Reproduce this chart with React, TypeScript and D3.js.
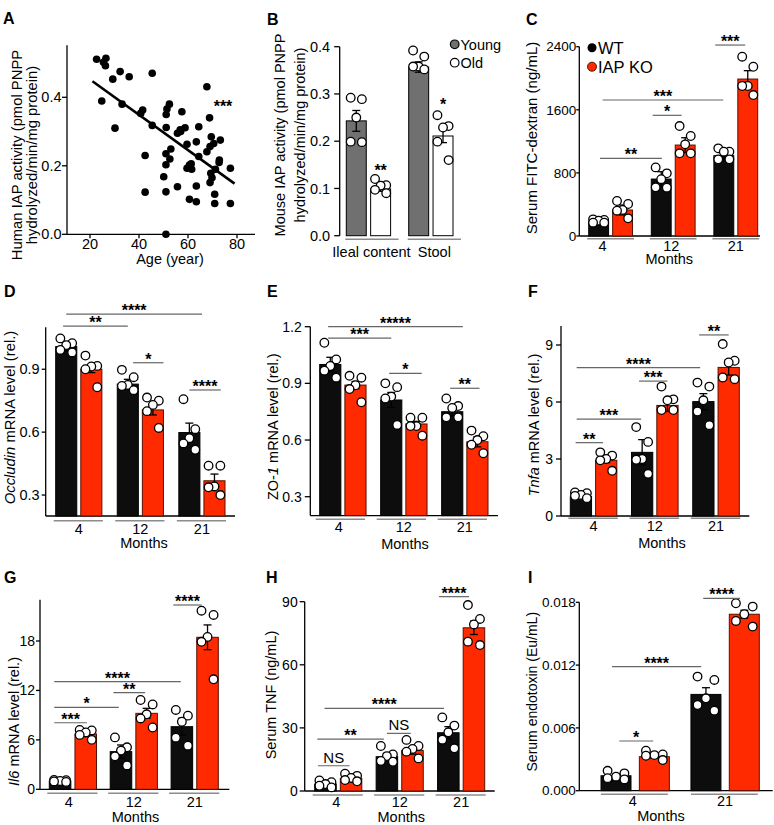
import React from "react";
import * as d3 from "d3";

const FONT = "'Liberation Sans', Arial, Helvetica, sans-serif";
const RED = "#ff2a00";
const RED_EDGE = "#5a1000";
const BLACK_BAR = "#0d0d0d";
const YOUNG_GREY = "#707070";
const RULE_GREY = "#8c8c8c";
const SIG_GREY = "#666666";

// ---------- A: human IAP activity vs age
const humanAge = [22.7, 26.5, 25.5, 26.3, 32.3, 29.3, 36, 45.4, 24.8, 33.1, 30.2, 41.5, 40.7, 45.4, 42.5, 42.5, 51.4, 52.4, 51.1, 51.1, 51, 53, 52.6, 51, 50.1, 51, 51, 55.7, 55.7, 56.8, 58.8, 57.5, 59.6, 59.6, 60.6, 61.3, 60.6, 63.4, 63.4, 63.4, 64.4, 64.4, 67.7, 68.8, 67.7, 69, 69.5, 69.3, 69, 69.8, 70.9, 70.9, 73.2, 72.8, 72.7, 70.5, 77.3, 77.3, 71.2, 57, 61.5];
const humanIap = [0.511, 0.514, 0.502, 0.492, 0.475, 0.453, 0.46, 0.47, 0.389, 0.38, 0.31, 0.363, 0.353, 0.318, 0.23, 0.123, 0.366, 0.38, 0.35, 0.312, 0.235, 0.249, 0.22, 0.203, 0.168, 0.124, 0.0, 0.139, 0.295, 0.305, 0.311, 0.358, 0.263, 0.193, 0.202, 0.206, 0.102, 0.095, 0.141, 0.27, 0.314, 0.227, 0.431, 0.34, 0.241, 0.256, 0.285, 0.178, 0.151, 0.165, 0.117, 0.09, 0.275, 0.217, 0.21, 0.265, 0.193, 0.09, 0.19, 0.3, 0.19];
const fitAge = [21, 79];
const fitIap = [0.447, 0.148];
const ageTicks = [20, 40, 60, 80];
const humanTicks = [0, 0.2, 0.4];

// ---------- B: mouse IAP activity
const bGroups = ["Ileal content", "Stool"];
const bYoungMean = [0.243, 0.357];
const bYoungSem = [0.022, 0.011];
const bYoungDots = [[0.292, 0.289, 0.25, 0.199, 0.198], [0.392, 0.379, 0.358, 0.358, 0.352]];
const bOldMean = [0.099, 0.211];
const bOldSem = [0.005, 0.014];
const bOldDots = [[0.12, 0.107, 0.106, 0.097, 0.09], [0.255, 0.232, 0.229, 0.199, 0.16]];
const bTicks = [0, 0.1, 0.2, 0.3, 0.4];

// ---------- C..I: WT vs IAP KO by age in months
const months = ["4", "12", "21"];
const monthsI = ["4", "21"];

const cWtMean = [182, 722, 1018];
const cWtSem = [42, 93, 51];
const cWtDots = [[211, 203, 194, 169, 169], [870, 794, 720, 617, 613], [1111, 1069, 1069, 972, 972]];
const cKoMean = [330, 1153, 1990];
const cKoSem = [63, 93, 106];
const cKoDots = [[444, 406, 330, 321, 224], [1394, 1268, 1162, 1048, 1048], [2273, 2146, 1902, 1902, 1787]];
const cTicks = [0, 800, 1600, 2400];

const dWtMean = [1.008, 0.829, 0.598];
const dWtSem = [0.02, 0.023, 0.045];
const dWtDots = [[1.047, 1.024, 1.015, 0.992, 0.98], [0.897, 0.862, 0.825, 0.82, 0.8], [0.757, 0.614, 0.571, 0.546, 0.516]];
const dKoMean = [0.9, 0.706, 0.368];
const dKoSem = [0.016, 0.024, 0.032];
const dKoDots = [[0.965, 0.916, 0.913, 0.9, 0.814], [0.765, 0.75, 0.73, 0.7, 0.62], [0.44, 0.44, 0.341, 0.337, 0.3]];
const dTicks = [0.3, 0.6, 0.9];

const eWtMean = [1.0, 0.812, 0.75];
const eWtSem = [0.038, 0.04, 0.023];
const eWtDots = [[1.115, 1.027, 0.992, 0.967, 0.93], [0.9, 0.88, 0.83, 0.82, 0.68], [0.82, 0.78, 0.77, 0.72, 0.72]];
const eKoMean = [0.891, 0.685, 0.591];
const eKoSem = [0.019, 0.014, 0.027];
const eKoDots = [[0.94, 0.93, 0.89, 0.87, 0.8], [0.718, 0.718, 0.674, 0.674, 0.623], [0.65, 0.62, 0.6, 0.575, 0.53]];
const eTicks = [0.3, 0.6, 0.9, 1.2];

const fWtMean = [1.02, 3.35, 6.02];
const fWtSem = [0.05, 0.67, 0.42];
const fWtDots = [[1.24, 1.2, 1.11, 1.06, 0.94], [4.68, 3.9, 3.0, 2.96, 2.22], [7.02, 6.81, 6.09, 5.5, 4.78]];
const fKoMean = [2.93, 5.82, 7.82];
const fKoSem = [0.12, 0.32, 0.4];
const fKoDots = [[3.35, 3.18, 3.0, 2.93, 2.38], [6.81, 6.14, 6.09, 5.58, 5.58], [9.05, 8.17, 8.08, 7.29, 7.2]];
const fTicks = [0, 3, 6, 9];

const gWtMean = [1.01, 4.57, 7.6];
const gWtSem = [0.08, 0.81, 1.02];
const gWtDots = [[1.13, 1.1, 1.01, 0.95, 0.9], [6.3, 5.1, 4.7, 4.0, 2.9], [9.63, 8.94, 8.2, 6.27, 5.3]];
const gKoMean = [6.72, 9.22, 18.45];
const gKoSem = [0.2, 0.61, 1.5];
const gKoDots = [[7.2, 7.15, 6.9, 6.6, 6.0], [10.84, 10.3, 9.1, 8.6, 7.5], [21.68, 21.16, 18.5, 17.9, 13.35]];
const gTicks = [0, 6, 12, 18];

const hWtMean = [3.33, 16.3, 27.7];
const hWtSem = [0.6, 1.6, 2.9];
const hWtDots = [[5.0, 4.2, 3.3, 2.5, 1.7], [21.4, 17.4, 16.6, 14.3, 13.9], [35.0, 31.1, 27.9, 24.4, 20.3]];
const hKoMean = [6.0, 19.3, 77.6];
const hKoSem = [0.7, 1.8, 3.2];
const hKoDots = [[8.2, 7.2, 6.2, 5.2, 4.6], [24.3, 21.4, 20.0, 18.7, 15.5], [88.4, 81.8, 79.2, 71.0, 69.4]];
const hTicks = [0, 30, 60, 90];

const iWtMean = [0.00143, 0.0092];
const iWtSem = [0.00015, 0.00064];
const iWtDots = [[0.0019, 0.00166, 0.00134, 0.0012, 0.00108], [0.0109, 0.01058, 0.00883, 0.00819, 0.00765]];
const iKoMean = [0.00325, 0.01686];
const iKoSem = [0.00015, 0.00038];
const iKoDots = [[0.00382, 0.00347, 0.0034, 0.00334, 0.00293], [0.01791, 0.01759, 0.01686, 0.01622, 0.01568]];
const iTicks = [0, 0.006, 0.012, 0.018];

// dot spread inside a bar, by rank (highest first), in bar widths
const JITTER = [-0.28, 0.28, 0, -0.28, 0.28];

type Series = { key: string; fill: string; stroke: string; means: number[]; sems: number[]; dots: number[][] };
type Sig = { g1: string; s1: string; o1: number; g2?: string; s2?: string; o2?: number; y: number; text: string };

const wt = (means: number[], sems: number[], dots: number[][]): Series => ({ key: "WT", fill: BLACK_BAR, stroke: "#000", means, sems, dots });
const ko = (means: number[], sems: number[], dots: number[][]): Series => ({ key: "KO", fill: RED, stroke: RED_EDGE, means, sems, dots });

function BarPanel(props: any) {
  const { groups, series, sigs, L } = props;
  const y = d3.scaleLinear().domain(L.domain).range(L.yRange);
  const gx = d3.scaleBand().domain(groups).range(L.barRange).paddingInner(L.pGroup).paddingOuter(0);
  const sx = d3
    .scaleBand()
    .domain(series.map((s: Series) => s.key))
    .range([0, gx.bandwidth()])
    .paddingInner(L.pBar)
    .paddingOuter(0);
  const bw = sx.bandwidth();
  const cx = (g: string, s: string) => (gx(g) as number) + (sx(s) as number) + bw / 2;
  const fmt = L.fmt || ((v: number) => String(v));
  const yBase = y(L.domain[0]);
  const tickLen = L.tickLen ?? 5;
  const tickGap = L.tickGap ?? 7;

  return (
    <g fontFamily={FONT}>
      <text x={L.letter[0]} y={L.letter[1]} fontSize={16} fontWeight="bold">{L.letterText}</text>
      {/* y axis */}
      <line x1={L.axisX} x2={L.axisX} y1={yBase} y2={y(L.domain[1])} stroke="#000" strokeWidth={1.3} />
      {L.ticks.map((t: number) => (
        <g key={t}>
          <line x1={L.axisX - tickLen} x2={L.axisX} y1={y(t)} y2={y(t)} stroke="#000" strokeWidth={1.3} />
          <text x={L.axisX - tickGap} y={y(t)} dy="0.35em" textAnchor="end" fontSize={L.tickSize || 14}>{fmt(t)}</text>
        </g>
      ))}
      {L.xEnd && <line x1={L.axisX} x2={L.xEnd} y1={yBase} y2={yBase} stroke="#000" strokeWidth={1.3} />}
      {/* bars */}
      {series.map((s: Series) =>
        groups.map((g: string, i: number) => (
          <rect
            key={s.key + g}
            x={cx(g, s.key) - bw / 2}
            y={y(s.means[i])}
            width={bw}
            height={yBase - y(s.means[i])}
            fill={s.fill}
            stroke={s.stroke}
            strokeWidth={1}
          />
        ))
      )}
      {/* error bars */}
      {series.map((s: Series) =>
        groups.map((g: string, i: number) => {
          const c = cx(g, s.key);
          const hi = y(s.means[i] + s.sems[i]);
          const lo = y(s.means[i] - s.sems[i]);
          return (
            <g key={"e" + s.key + g} stroke="#000" strokeWidth={1.3}>
              <line x1={c} x2={c} y1={hi} y2={lo} />
              <line x1={c - 4} x2={c + 4} y1={hi} y2={hi} />
              <line x1={c - 4} x2={c + 4} y1={lo} y2={lo} />
            </g>
          );
        })
      )}
      {/* individual animals */}
      {series.map((s: Series) =>
        groups.map((g: string, i: number) =>
          [...s.dots[i]]
            .sort((a, b) => b - a)
            .map((v, k) => (
              <circle
                key={"d" + s.key + g + k}
                cx={cx(g, s.key) + JITTER[k % JITTER.length] * bw}
                cy={y(v)}
                r={4.3}
                fill="#fff"
                stroke="#000"
                strokeWidth={1.3}
              />
            ))
        )
      )}
      {/* group rules and labels */}
      {groups.map((g: string, i: number) => (
        <g key={"g" + g}>
          <line
            x1={(gx(g) as number) + L.rule[0]}
            x2={(gx(g) as number) + gx.bandwidth() + L.rule[1]}
            y1={L.ruleY}
            y2={L.ruleY}
            stroke={RULE_GREY}
            strokeWidth={1.5}
          />
          <text x={(gx(g) as number) + gx.bandwidth() / 2 + (L.labelShift ? L.labelShift[i] : 0)} y={L.labelY} textAnchor="middle" fontSize={14.5}>
            {g}
          </text>
        </g>
      ))}
      {L.monthsX && (
        <text x={L.monthsX} y={L.monthsY} textAnchor="middle" fontSize={14.5}>Months</text>
      )}
      {/* significance */}
      {sigs.map((sg: Sig, k: number) => {
        const x1 = cx(sg.g1, sg.s1) + sg.o1 * bw;
        const x2 = sg.g2 ? cx(sg.g2, sg.s2 as string) + (sg.o2 as number) * bw : x1;
        const yy = y(sg.y);
        const ns = sg.text === "NS";
        return (
          <g key={"s" + k}>
            {sg.g2 && <line x1={x1} x2={x2} y1={yy} y2={yy} stroke={SIG_GREY} strokeWidth={1.2} />}
            <text
              x={(x1 + x2) / 2}
              y={ns ? yy - 3 : yy + 2}
              textAnchor="middle"
              fontSize={ns ? 15 : 16}
              fontWeight={ns ? "normal" : "bold"}
            >
              {sg.text}
            </text>
          </g>
        );
      })}
      {/* y label */}
      {L.yLabels.map((lab: any, k: number) => (
        <text
          key={"yl" + k}
          transform={`translate(${L.yLabelX[k]},${L.yLabelY}) rotate(-90)`}
          dy="0.35em"
          textAnchor="middle"
          fontSize={L.yLabelSize || 14.5}
        >
          {lab}
        </text>
      ))}
      {props.children}
    </g>
  );
}

function ScatterA() {
  const x = d3.scaleLinear().domain([20, 80]).range([90, 237]);
  const y = d3.scaleLinear().domain([0, 0.4]).range([234.3, 97.3]);
  const axisX = 67;
  const fit = d3
    .line<number>()
    .x((d) => x(fitAge[d]))
    .y((d) => y(fitIap[d]));
  return (
    <g fontFamily={FONT}>
      <text x={3} y={24} fontSize={16} fontWeight="bold">A</text>
      <line x1={axisX} x2={axisX} y1={y(0)} y2={y(0.552)} stroke="#000" strokeWidth={1.3} />
      <line x1={axisX} x2={255} y1={y(0)} y2={y(0)} stroke="#000" strokeWidth={1.3} />
      {humanTicks.map((t) => (
        <g key={t}>
          <line x1={axisX - 5} x2={axisX} y1={y(t)} y2={y(t)} stroke="#000" strokeWidth={1.3} />
          <text x={axisX - 5.5} y={y(t)} dy="0.35em" textAnchor="end" fontSize={14.5}>{t.toFixed(1)}</text>
        </g>
      ))}
      {ageTicks.map((t) => (
        <g key={t}>
          <line x1={x(t)} x2={x(t)} y1={y(0)} y2={y(0) + 4} stroke="#000" strokeWidth={1.3} />
          <text x={x(t)} y={249} textAnchor="middle" fontSize={14.5}>{t}</text>
        </g>
      ))}
      <text x={170} y={264} textAnchor="middle" fontSize={14.5}>Age (year)</text>
      {humanAge.map((a, i) => (
        <circle key={i} cx={x(a)} cy={y(humanIap[i])} r={3.8} fill="#000" />
      ))}
      <path d={fit([0, 1]) as string} stroke="#000" strokeWidth={2.6} fill="none" />
      <text x={223} y={112} textAnchor="middle" fontSize={16} fontWeight="bold">***</text>
      <text transform="translate(16.5,155) rotate(-90)" dy="0.35em" textAnchor="middle" fontSize={14.8}>
        Human IAP activity (pmol PNPP
      </text>
      <text transform="translate(31.5,155) rotate(-90)" dy="0.35em" textAnchor="middle" fontSize={14.8}>
        hydrolyzed/min/mg protein)
      </text>
    </g>
  );
}

export default function App() {
  const bSeries: Series[] = [
    { key: "Young", fill: YOUNG_GREY, stroke: "#000", means: bYoungMean, sems: bYoungSem, dots: bYoungDots },
    { key: "Old", fill: "#fff", stroke: "#000", means: bOldMean, sems: bOldSem, dots: bOldDots },
  ];
  const common = { rule: [-2, 1], pBar: 0.16 };
  return (
    <svg
      width={774}
      height={825}
      style={{ position: "absolute", left: 0, top: 0, background: "#fff" }}
    >
      <rect width={774} height={825} fill="#fff" />
      <ScatterA />

      <BarPanel
        groups={bGroups}
        series={bSeries}
        sigs={[
          { g1: "Ileal content", s1: "Old", o1: 0, y: 0.1306, text: "**" },
          { g1: "Stool", s1: "Old", o1: 0, y: 0.27, text: "*" },
        ]}
        L={{
          letterText: "B", letter: [267, 25], axisX: 339.7, domain: [0, 0.4], yRange: [235.7, 46.7],
          ticks: bTicks, fmt: (v: number) => v.toFixed(1), tickSize: 14.5, tickGap: 9.5, tickLen: 5.5,
          barRange: [346.3, 453], pGroup: 0.29, pBar: 0.18,
          rule: [-1, 8], ruleY: 239.3, labelY: 257, labelShift: [3, 3.5],
          yLabels: ["Mouse IAP activity (pmol PNPP", "hydrolyzed/min/mg protein)"],
          yLabelX: [280, 299.5], yLabelY: 135,
        }}
      >
        <circle cx={454.7} cy={44.3} r={4.3} fill={YOUNG_GREY} stroke="#000" strokeWidth={1.2} />
        <text x={460.5} y={49.5} fontSize={14.5} fontFamily={FONT}>Young</text>
        <circle cx={454.7} cy={62.7} r={4.3} fill="#fff" stroke="#000" strokeWidth={1.2} />
        <text x={460.5} y={68} fontSize={14.5} fontFamily={FONT}>Old</text>
      </BarPanel>

      <BarPanel
        groups={months}
        series={[wt(cWtMean, cWtSem, cWtDots), ko(cKoMean, cKoSem, cKoDots)]}
        sigs={[
          { g1: "21", s1: "WT", o1: -0.43, g2: "21", s2: "KO", o2: -0.13, y: 2421, text: "***" },
          { g1: "4", s1: "WT", o1: 0.2, g2: "21", s2: "WT", o2: -0.03, y: 1724, text: "***" },
          { g1: "12", s1: "WT", o1: -0.43, g2: "12", s2: "KO", o2: -0.18, y: 1530, text: "*" },
          { g1: "4", s1: "WT", o1: 0.07, g2: "12", s2: "WT", o2: 0.03, y: 985, text: "**" },
        ]}
        L={{
          letterText: "C", letter: [526, 25], axisX: 579.3, domain: [0, 2400], yRange: [236, 46.7], xEnd: 760,
          ticks: cTicks, tickSize: 13.5, tickGap: 3, tickLen: 3, barRange: [588.7, 757.7], pGroup: 0.3, pBar: 0.17,
          rule: [-1.5, 1.5], ruleY: 238.7, labelY: 250.5, labelShift: [-8, -2, 0], monthsX: 669.3, monthsY: 264,
          yLabels: ["Serum FITC-dextran (ng/mL)"], yLabelSize: 15, yLabelX: [531.5], yLabelY: 138,
        }}
      >
        <circle cx={592} cy={47.7} r={4.5} fill="#000" />
        <text x={598} y={53.5} fontSize={16.5} fontFamily={FONT}>WT</text>
        <circle cx={592} cy={66.7} r={4.5} fill={RED} stroke={RED_EDGE} strokeWidth={1} />
        <text x={598} y={72.5} fontSize={16.5} fontFamily={FONT}>IAP KO</text>
      </BarPanel>

      <BarPanel
        groups={months}
        series={[wt(dWtMean, dWtSem, dWtDots), ko(dKoMean, dKoSem, dKoDots)]}
        sigs={[
          { g1: "4", s1: "WT", o1: 0, g2: "21", s2: "WT", o2: 0.6, y: 1.163, text: "****" },
          { g1: "4", s1: "WT", o1: -0.15, g2: "12", s2: "WT", o2: 0, y: 1.106, text: "**" },
          { g1: "12", s1: "WT", o1: 0.25, g2: "12", s2: "KO", o2: 0.5, y: 0.931, text: "*" },
          { g1: "21", s1: "WT", o1: 0, g2: "21", s2: "KO", o2: 0.3, y: 0.801, text: "****" },
        ]}
        L={{
          ...common, letterText: "D", letter: [4, 297], axisX: 45.7, domain: [0.2, 1.1], yRange: [516, 327.3], xEnd: 235,
          ticks: dTicks, fmt: (v: number) => v.toFixed(1), tickSize: 14.5, tickGap: 6, tickLen: 4,
          barRange: [55.7, 225], pGroup: 0.25,
          ruleY: 520.7, labelY: 533.5, monthsX: 144, monthsY: 548,
          yLabels: [<><tspan fontStyle="italic">Occludin</tspan> mRNA level (rel.)</>], yLabelSize: 14.8, yLabelX: [9.5], yLabelY: 417.5,
        }}
      />

      <BarPanel
        groups={months}
        series={[wt(eWtMean, eWtSem, eWtDots), ko(eKoMean, eKoSem, eKoDots)]}
        sigs={[
          { g1: "4", s1: "WT", o1: -0.1, g2: "21", s2: "WT", o2: 0.5, y: 1.2, text: "*****" },
          { g1: "4", s1: "WT", o1: -0.1, g2: "12", s2: "WT", o2: 0, y: 1.139, text: "***" },
          { g1: "12", s1: "WT", o1: -0.1, g2: "12", s2: "KO", o2: 0.25, y: 0.953, text: "*" },
          { g1: "21", s1: "WT", o1: -0.1, g2: "21", s2: "KO", o2: 0.1, y: 0.874, text: "**" },
        ]}
        L={{
          ...common, letterText: "E", letter: [267, 297], axisX: 310.3, domain: [0.2, 1.2], yRange: [515.6, 326.7], xEnd: 498,
          ticks: eTicks, fmt: (v: number) => v.toFixed(1), tickGap: 8.5, tickLen: 5.5,
          barRange: [319.7, 488], pGroup: 0.24, rule: [-4, -1],
          ruleY: 519.3, labelY: 532, labelShift: [-4, 0, 0], monthsX: 405, monthsY: 548.5,
          yLabels: [<>ZO-<tspan fontStyle="italic">1</tspan> mRNA level (rel.)</>], yLabelX: [273], yLabelY: 426.7,
        }}
      />

      <BarPanel
        groups={months}
        series={[wt(fWtMean, fWtSem, fWtDots), ko(fKoMean, fKoSem, fKoDots)]}
        sigs={[
          { g1: "21", s1: "WT", o1: -0.2, g2: "21", s2: "KO", o2: 0, y: 9.53, text: "**" },
          { g1: "4", s1: "WT", o1: -0.2, g2: "21", s2: "WT", o2: -0.15, y: 7.81, text: "****" },
          { g1: "12", s1: "WT", o1: -0.15, g2: "12", s2: "KO", o2: 0, y: 7.1, text: "***" },
          { g1: "4", s1: "WT", o1: -0.2, g2: "12", s2: "WT", o2: -0.05, y: 5.1, text: "***" },
          { g1: "4", s1: "WT", o1: -0.25, g2: "4", s2: "KO", o2: -0.15, y: 3.86, text: "**" },
        ]}
        L={{
          ...common, letterText: "F", letter: [528, 297], axisX: 561, domain: [0, 10], yRange: [516, 326], xEnd: 749.3,
          ticks: fTicks, tickGap: 8, tickLen: 5, barRange: [570.3, 739.3], pGroup: 0.24,
          ruleY: 518.3, labelY: 530.5, monthsX: 662, monthsY: 548,
          yLabels: [<><tspan fontStyle="italic">Tnfa</tspan> mRNA level (rel.)</>], yLabelX: [534.3], yLabelY: 425,
        }}
      />

      <BarPanel
        groups={months}
        series={[wt(gWtMean, gWtSem, gWtDots), ko(gKoMean, gKoSem, gKoDots)]}
        sigs={[
          { g1: "21", s1: "WT", o1: -0.4, g2: "21", s2: "KO", o2: -0.27, y: 22.37, text: "****" },
          { g1: "4", s1: "WT", o1: -0.27, g2: "21", s2: "WT", o2: -0.05, y: 13.06, text: "****" },
          { g1: "12", s1: "WT", o1: -0.35, g2: "12", s2: "KO", o2: -0.07, y: 11.73, text: "**" },
          { g1: "4", s1: "WT", o1: -0.27, g2: "12", s2: "WT", o2: -0.1, y: 9.95, text: "*" },
          { g1: "4", s1: "WT", o1: -0.27, g2: "4", s2: "KO", o2: 0.05, y: 8.08, text: "***" },
        ]}
        L={{
          ...common, letterText: "G", letter: [4, 583], axisX: 40, domain: [0, 23], yRange: [789.3, 599.8], xEnd: 229.3,
          ticks: gTicks, tickGap: 5, tickLen: 4, barRange: [49.3, 218.3], pGroup: 0.225,
          ruleY: 793.3, labelY: 807, labelShift: [-4, 0, 0], monthsX: 135.5, monthsY: 822,
          yLabels: [<><tspan fontStyle="italic">Il6</tspan> mRNA level (rel.)</>], yLabelX: [14], yLabelY: 721.5,
        }}
      />

      <BarPanel
        groups={months}
        series={[wt(hWtMean, hWtSem, hWtDots), ko(hKoMean, hKoSem, hKoDots)]}
        sigs={[
          { g1: "21", s1: "WT", o1: -0.43, g2: "21", s2: "KO", o2: -0.23, y: 92.4, text: "****" },
          { g1: "4", s1: "WT", o1: -0.04, g2: "21", s2: "WT", o2: -0.2, y: 39.3, text: "****" },
          { g1: "12", s1: "WT", o1: 0, g2: "12", s2: "KO", o2: -0.08, y: 27.4, text: "NS" },
          { g1: "4", s1: "WT", o1: -0.38, g2: "12", s2: "WT", o2: -0.14, y: 24.7, text: "**" },
          { g1: "4", s1: "WT", o1: -0.35, g2: "4", s2: "KO", o2: -0.07, y: 12.0, text: "NS" },
        ]}
        L={{
          ...common, letterText: "H", letter: [266, 583], axisX: 304.7, domain: [0, 90], yRange: [791, 601.7], xEnd: 494.7,
          ticks: hTicks, tickGap: 7, tickLen: 5, barRange: [314.7, 484.7], pGroup: 0.233,
          ruleY: 795, labelY: 807, labelShift: [-2, 0, 0], monthsX: 401.3, monthsY: 822,
          yLabels: ["Serum TNF (ng/mL)"], yLabelX: [271.3], yLabelY: 695,
        }}
      />

      <BarPanel
        groups={monthsI}
        series={[wt(iWtMean, iWtSem, iWtDots), ko(iKoMean, iKoSem, iKoDots)]}
        sigs={[
          { g1: "21", s1: "WT", o1: -0.09, g2: "21", s2: "KO", o2: -0.14, y: 0.01838, text: "****" },
          { g1: "4", s1: "WT", o1: -0.13, g2: "21", s2: "WT", o2: -0.16, y: 0.01185, text: "****" },
          { g1: "4", s1: "WT", o1: 0.11, g2: "4", s2: "KO", o2: -0.04, y: 0.00475, text: "*" },
        ]}
        L={{
          letterText: "I", letter: [528, 583], axisX: 579.3, domain: [0, 0.018], yRange: [790.7, 602.3], xEnd: 772.7,
          ticks: iTicks, fmt: (v: number) => v.toFixed(3), tickSize: 13.5, tickGap: 3.5, tickLen: 3.5,
          barRange: [601, 759.3], pGroup: 0.24, pBar: 0.218,
          rule: [0, -1.5], ruleY: 794.3, labelY: 805.5, labelShift: [-2.5, 0], monthsX: 661, monthsY: 820.5,
          yLabels: ["Serum endotoxin (Eu/mL)"], yLabelSize: 14, yLabelX: [532], yLabelY: 691.7,
        }}
      />
    </svg>
  );
}
